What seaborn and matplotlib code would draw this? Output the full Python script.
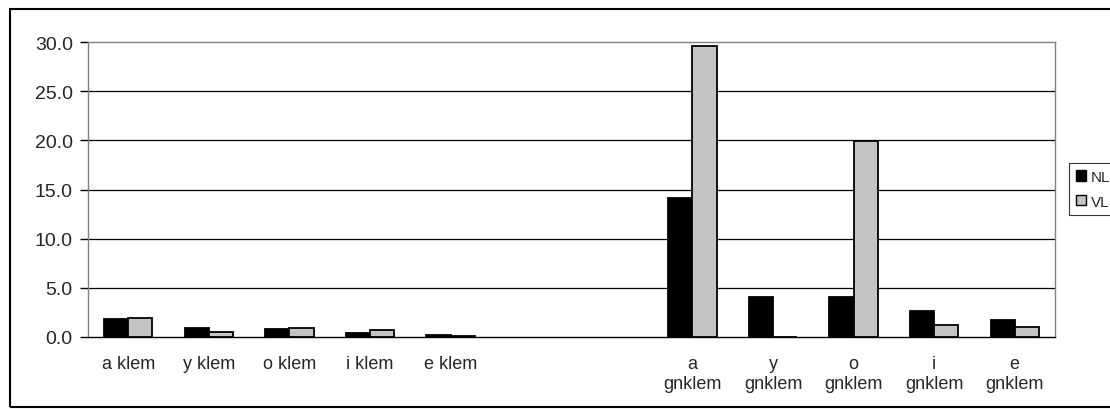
import numpy as np
import pandas as pd
import seaborn as sns
import matplotlib.pyplot as plt
from matplotlib.patches import Rectangle

categories = ["a klem", "y klem", "o klem", "i klem", "e klem", "gap1", "gap2",
              "a gnklem", "y gnklem", "o gnklem", "i gnklem", "e gnklem"]
tick_labels = ["a klem", "y klem", "o klem", "i klem", "e klem", "", "",
               "a\ngnklem", "y\ngnklem", "o\ngnklem", "i\ngnklem", "e\ngnklem"]
nl_values = [1.8, 0.9, 0.8, 0.4, 0.2, np.nan, np.nan, 14.1, 4.1, 4.1, 2.6, 1.7]
vl_values = [1.9, 0.5, 0.9, 0.7, 0.15, np.nan, np.nan, 29.6, 0.0, 19.9, 1.2, 1.0]

df = pd.DataFrame({
    "cat": categories * 2,
    "value": nl_values + vl_values,
    "series": ["NL"] * len(categories) + ["VL"] * len(categories),
})

sns.set_theme(style="white")
plt.rcParams['font.family'] = ['Liberation Sans', 'DejaVu Sans']

fig = plt.figure(figsize=(11.1, 4.1), dpi=100)
ax = fig.add_axes([88 / 1110, 1 - 338 / 410, (1055 - 88) / 1110, (338 - 43) / 410])

sns.barplot(data=df, x="cat", y="value", hue="series", order=categories,
            palette={"NL": "#000000", "VL": "#c4c4c4"}, width=0.6,
            edgecolor="black", linewidth=1.3, ax=ax, legend=False)

ax.set_ylim(0, 30)
ax.set_xlim(-0.5, len(categories) - 0.5)
ax.set_yticks(np.arange(0, 31, 5))
ax.set_yticklabels([f"{v:.1f}" for v in np.arange(0, 31, 5)], fontsize=14)
ax.set_xticks(range(len(categories)))
ax.set_xticklabels(tick_labels, fontsize=13, va="top", linespacing=1.2)
ax.set_xticks(np.arange(-0.5, len(categories), 1), minor=True)
ax.tick_params(axis="x", which="major", length=0, pad=13)
ax.tick_params(axis="x", which="minor", length=5, width=1, color="black", direction="out")
ax.tick_params(axis="y", length=6, width=1, color="black", direction="out", left=True, pad=5)
ax.set_xlabel("")
ax.set_ylabel("")

for y in range(5, 30, 5):
    ax.axhline(y, color="black", linewidth=0.9, zorder=0)

for side in ["top", "right", "left"]:
    ax.spines[side].set_color("#808080")
    ax.spines[side].set_linewidth(1)
ax.spines["bottom"].set_color("black")
ax.spines["bottom"].set_linewidth(1)

# chart area border
fig.patches.append(Rectangle((10 / 1110, 2 / 410), 1.2, 1 - 12 / 410,
                             transform=fig.transFigure, fill=False,
                             edgecolor="black", linewidth=1.5))

# legend
handles = [Rectangle((0, 0), 1, 1, facecolor="#000000", edgecolor="black"),
           Rectangle((0, 0), 1, 1, facecolor="#c4c4c4", edgecolor="black")]
leg = fig.legend(handles, ["NL", "VL"], loc="upper left",
                 bbox_to_anchor=(1069 / 1110, 1 - 164 / 410), fontsize=11,
                 frameon=True, fancybox=False, handlelength=0.65, handleheight=0.65,
                 handletextpad=0.35, borderpad=0.45, labelspacing=0.7,
                 borderaxespad=0)
leg.get_frame().set_edgecolor("black")
leg.get_frame().set_linewidth(0.8)

fig.savefig("out.png", dpi=100)
